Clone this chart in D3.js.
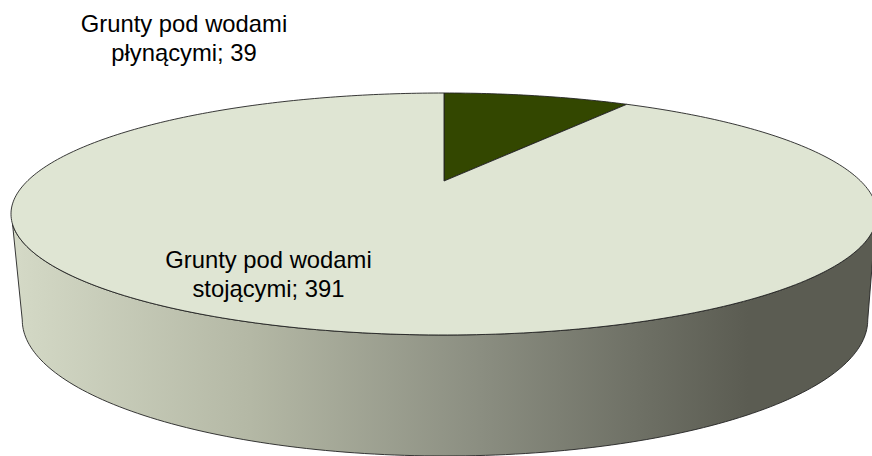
<!DOCTYPE html>
<html>
<head>
<meta charset="utf-8">
<script src="https://cdn.jsdelivr.net/npm/d3@7"></script>
<style>
html, body { margin: 0; padding: 0; background: #fff; }
text { font-family: "Liberation Sans", Arial, sans-serif; font-size: 23.8px; fill: #000; }
</style>
</head>
<body>
<div id="container"></div>
<script>
var width = 872;
var height = 456;

var categories = ['Grunty pod wodami płynącymi', 'Grunty pod wodami stojącymi'];
var values = [39, 391];
var colors = ['#334700', '#dfe5d3'];

// circle seen in perspective: cx, cy is where the slices meet, k is the tilt
var topRim = {cx: 444, cy: 181, a: 416.6, b: 112, k: -0.2727};
var bottomRim = {cx: 445, cy: 272.3, a: 396, b: 119.4, k: -0.35};

function project(rim, angle) {
    var u = Math.sin(angle);
    var v = -Math.cos(angle);
    var w = 1 + rim.k * v;
    return [rim.cx + rim.a * u / w, rim.cy + rim.b * v / w];
}

function arcPoints(rim, start, end) {
    var n = Math.max(2, Math.ceil(Math.abs(end - start) * 60));
    return d3.range(n + 1).map(function(i) {
        return project(rim, start + (end - start) * i / n);
    });
}

var line = d3.line();
var pie = d3.pie().sort(null);
var slices = pie(values);

var svg = d3.select('#container').append('svg')
    .attr('width', width).attr('height', height)
    .style('display', 'block');

var gradient = svg.append('defs').append('linearGradient')
    .attr('id', 'side-gradient')
    .attr('gradientUnits', 'userSpaceOnUse')
    .attr('x1', 12).attr('x2', 872).attr('y1', 0).attr('y2', 0);

[[0, '#d5dac7'], [0.02, '#d2d7c4'], [0.277, '#b4b8a5'], [0.544, '#8b8e81'], [0.73, '#6e7065'], [0.856, '#5b5c52'], [1, '#5b5c52']]
    .forEach(function(s) {
        gradient.append('stop').attr('offset', s[0]).attr('stop-color', s[1]);
    });

// the side wall runs round the front between the two widest points
var sideStart = Math.acos(-0.35);
var sideEnd = 2 * Math.PI - sideStart;
var sidePoints = arcPoints(topRim, sideStart, sideEnd)
    .concat(arcPoints(bottomRim, sideEnd, sideStart));

svg.append('path')
    .attr('d', line(sidePoints) + 'Z')
    .attr('fill', 'url(#side-gradient)')
    .attr('stroke', '#222')
    .attr('stroke-width', 0.9);

svg.selectAll('path.slice')
    .data(slices)
    .enter().append('path')
    .attr('class', 'slice')
    .attr('d', function(d) {
        var pts = arcPoints(topRim, d.startAngle, d.endAngle);
        pts.unshift([topRim.cx, topRim.cy]);
        return line(pts) + 'Z';
    })
    .attr('fill', function(d, i) { return colors[i]; })
    .attr('stroke', '#222')
    .attr('stroke-width', 0.9)
    .attr('stroke-linejoin', 'round');

var labelLines = [
    ['Grunty pod wodami', 'płynącymi; ' + values[0]],
    ['Grunty pod wodami', 'stojącymi; ' + values[1]]
];
var labelPos = [[184, 32], [268.5, 268]];

labelLines.forEach(function(rows, i) {
    var label = svg.append('text')
        .attr('text-anchor', 'middle')
        .attr('aria-label', categories[i]);
    rows.forEach(function(row, j) {
        label.append('tspan')
            .attr('x', labelPos[i][0])
            .attr('y', labelPos[i][1] + j * 28.5)
            .text(row);
    });
});
</script>
</body>
</html>
